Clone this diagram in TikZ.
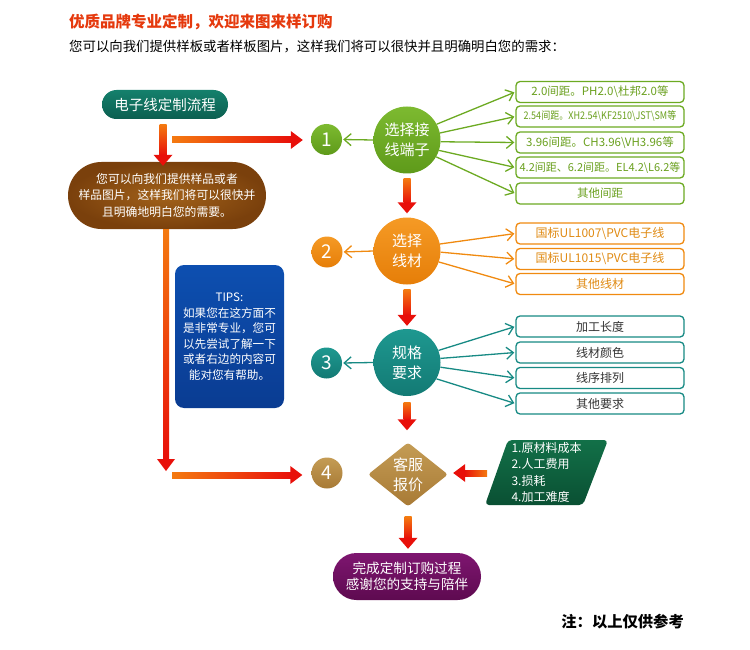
\documentclass[tikz,border=0pt]{standalone}
\usepackage{fontspec}
\setmainfont{Noto Sans CJK SC}
\usetikzlibrary{shapes.geometric,shapes.misc,arrows.meta,calc}
\definecolor{titred}{HTML}{E5390D}
\definecolor{gr}{HTML}{6CAA22}
\definecolor{grlight}{HTML}{7DBA30}
\definecolor{grdark}{HTML}{5E9A1A}
\definecolor{grtext}{HTML}{6AA01E}
\definecolor{org}{HTML}{F08A10}
\definecolor{orglight}{HTML}{F59A25}
\definecolor{orgdark}{HTML}{E67E08}
\definecolor{orgtext}{HTML}{E08A12}
\definecolor{tl}{HTML}{178A84}
\definecolor{tllight}{HTML}{1E9890}
\definecolor{tldark}{HTML}{137A74}
\definecolor{tltext}{HTML}{333333}
\definecolor{goldl}{HTML}{C49C55}
\definecolor{goldd}{HTML}{A87A35}
\definecolor{arrRed}{HTML}{E8100A}
\definecolor{arrOrg}{HTML}{F47A10}
\definecolor{tealA}{HTML}{14806C}
\definecolor{tealB}{HTML}{0C5F50}
\definecolor{brownA}{HTML}{A2621A}
\definecolor{brownB}{HTML}{7A400C}
\definecolor{blueA}{HTML}{0D4FB0}
\definecolor{blueB}{HTML}{0A3C92}
\definecolor{dkgreenA}{HTML}{127048}
\definecolor{dkgreenB}{HTML}{0A5033}
\definecolor{purpA}{HTML}{7E1670}
\definecolor{purpB}{HTML}{5E0A50}
\newcommand\gdown[2]{%
  \path[top color=arrOrg, bottom color=arrRed] let \p1=(#1), \p2=(#2) in (\x1-3.5pt,\y1) rectangle (\x1+3.5pt,\y2+10.5pt);
  \path[fill=arrRed] let \p1=(#1), \p2=(#2) in (\x1-9.5pt,\y2+11pt) -- (\x1+9.5pt,\y2+11pt) -- (\x1,\y2) -- cycle;}
\newcommand\gright[2]{%
  \path[left color=arrOrg, right color=arrRed] let \p1=(#1), \p2=(#2) in (\x1,\y1-3pt) rectangle (\x2-11pt,\y1+3pt);
  \path[fill=arrRed] let \p1=(#1), \p2=(#2) in (\x2-12pt,\y1-9pt) -- (\x2-12pt,\y1+9pt) -- (\x2,\y1) -- cycle;}
\newcommand\gleft[2]{%
  \path[left color=arrRed, right color=arrOrg] let \p1=(#1), \p2=(#2) in (\x2+11pt,\y1-3pt) rectangle (\x1,\y1+3pt);
  \path[fill=arrRed] let \p1=(#1), \p2=(#2) in (\x2+12pt,\y1-9pt) -- (\x2+12pt,\y1+9pt) -- (\x2,\y1) -- cycle;}
\tikzset{
  x=1pt, y=1pt,
  txt/.style={inner sep=0pt, align=center, text=white},
  small/.style={circle, minimum size=31pt, inner sep=0pt, text=white, font=\fontsize{19}{22}\selectfont},
  big/.style={circle, minimum size=67pt, inner sep=0pt, text=white, align=center, font=\fontsize{15}{20}\selectfont},
  optbox/.style={rounded corners=4pt, fill=white, line width=1.3pt, minimum width=168pt, minimum height=21pt, inner sep=0pt},
  gbox/.style={optbox, draw=gr, text=grtext, font=\fontsize{11.5}{13}\selectfont},
  obox/.style={optbox, draw=org, text=orgtext, font=\fontsize{12}{13}\selectfont},
  tbox/.style={optbox, draw=tl, text=tltext, font=\fontsize{12}{13}\selectfont},
  thin/.style={line width=1.3pt, -{Straight Barb[length=7pt,width=12pt]}, shorten >=1pt},
}
\begin{document}
\begin{tikzpicture}
\useasboundingbox (0,0) rectangle (750,-650);
% titles
\node[anchor=west, inner sep=0pt, text=titred, font=\bfseries\fontsize{15.5}{18}\selectfont] (title) at (69,-22) {优质品牌专业定制，欢迎来图来样订购};
\node[anchor=west, inner sep=0pt, font=\fontsize{13.4}{16}\selectfont] (sub) at (69,-47) {您可以向我们提供样板或者样板图片，这样我们将可以很快并且明确明白您的需求：};
% left column
\node[rounded rectangle, minimum width=126pt, minimum height=29pt, inner sep=0pt, top color=tealA, bottom color=tealB, text=white, font=\fontsize{14.5}{17}\selectfont] (start) at (165,-104.5) {电子线定制流程};
\node[rounded rectangle, minimum width=198pt, minimum height=67pt, inner sep=0pt, inner color=brownA, outer color=brownB, txt, font=\fontsize{11.8}{16.7}\selectfont] (brown) at (167,-195.5) {您可以向我们提供样品或者\\样品图片，这样我们将可以很快并\\且明确地明白您的需要。};
\node[rectangle, rounded corners=9pt, minimum width=109pt, minimum height=143pt, inner sep=0pt, top color=blueA, bottom color=blueB, txt, font=\fontsize{11.6}{15.5}\selectfont] (tips) at (229.5,-336.5) {TIPS:\\如果您在这方面不\\是非常专业，您可\\以先尝试了解一下\\或者右边的内容可\\能对您有帮助。};
% small number circles
\node[small, top color=grlight, bottom color=grdark] (n1) at (326.5,-139.5) {1};
\node[small, top color=orglight, bottom color=orgdark] (n2) at (327,-252) {2};
\node[small, top color=tllight, bottom color=tldark] (n3) at (326.5,-363) {3};
\node[small, top color=goldl, bottom color=goldd] (n4) at (327,-473) {4};
% main column
\node[big, top color=grlight, bottom color=grdark] (c1) at (407,-140) {选择接\\线端子};
\node[big, top color=orglight, bottom color=orgdark] (c2) at (407,-251) {选择\\线材};
\node[big, top color=tllight, bottom color=tldark] (c3) at (407,-362.5) {规格\\要求};
\node[diamond, minimum width=80pt, minimum height=56pt, inner sep=0pt, top color=goldl, bottom color=goldd, rounded corners=3pt, txt, font=\fontsize{15}{20}\selectfont] (d4) at (408,-474.5) {客服\\报价};
\node[rounded rectangle, minimum width=148pt, minimum height=47pt, inner sep=0pt, top color=purpA, bottom color=purpB, txt, font=\fontsize{13.6}{16}\selectfont] (fin) at (407,-576.5) {完成定制订购过程\\感谢您的支持与陪伴};
% parallelogram
\path[top color=dkgreenA, bottom color=dkgreenB, rounded corners=4pt] (485,-505) -- (508,-440) -- (608,-440) -- (583,-505) -- cycle;
\node[inner sep=0pt, align=left, text=white, font=\fontsize{12}{16.2}\selectfont] (pg) at (546.5,-472.5) {1.原材料成本\\2.人工费用\\3.损耗\\4.加工难度};
\coordinate (pgL) at (487,-473);
% option boxes
\node[gbox] (b11) at (600,-92) {2.0间距。PH2.0\textbackslash 杜邦2.0等};
\node[gbox] (b12) at (600,-116.5) {\fontsize{10.5}{12}\selectfont\scalebox{0.86}[1]{2.54间距。XH2.54\textbackslash KF2510\textbackslash JST\textbackslash SM等}};
\node[gbox] (b13) at (600,-142.5) {3.96间距。CH3.96\textbackslash VH3.96等};
\node[gbox] (b14) at (600,-167.5) {\fontsize{11}{12}\selectfont 4.2间距、6.2间距。EL4.2\textbackslash L6.2等};
\node[gbox] (b15) at (600,-193.5) {其他间距};
\node[obox] (b21) at (600,-233.5) {国标UL1007\textbackslash PVC电子线};
\node[obox] (b22) at (600,-259) {国标UL1015\textbackslash PVC电子线};
\node[obox] (b23) at (600,-284) {其他线材};
\node[tbox] (b31) at (600,-326.5) {加工长度};
\node[tbox] (b32) at (600,-352.5) {线材颜色};
\node[tbox] (b33) at (600,-378) {线序排列};
\node[tbox] (b34) at (600,-403.5) {其他要求};
% note
\node[anchor=east, inner sep=0pt, font=\bfseries\fontsize{15.3}{18}\selectfont] (note) at (684,-622) {注：以上仅供参考};
% thin connectors
\draw[thin, gr] (c1.west) -- (n1.east);
\draw[thin, gr] (c1.28) -- (b11.west);
\draw[thin, gr] (c1.12) -- (b12.west);
\draw[thin, gr] (c1.-3) -- (b13.west);
\draw[thin, gr] (c1.-18) -- (b14.west);
\draw[thin, gr] (c1.-30) -- (b15.west);
\draw[thin, org] (c2.west) -- (n2.east);
\draw[thin, org] (c2.12) -- (b21.west);
\draw[thin, org] (c2.-2) -- (b22.west);
\draw[thin, org] (c2.-19) -- (b23.west);
\draw[thin, tl] (c3.west) -- (n3.east);
\draw[thin, tl] (c3.21) -- (b31.west);
\draw[thin, tl] (c3.7) -- (b32.west);
\draw[thin, tl] (c3.-8) -- (b33.west);
\draw[thin, tl] (c3.-29) -- (b34.west);
% thick gradient arrows
\coordinate (s0) at ($(start.south)+(-2,-5)$);
\coordinate (t0) at ($(brown.north)+(-4,-4)$);
\gdown{s0}{t0}
\coordinate (h1) at (172,-140);
\coordinate (h1t) at ($(n1.west)+(-8,0)$);
\gright{h1}{h1t}
\gdown{$(c1.south)+(0,-5)$}{$(c2.north)+(0,4)$}
\gdown{$(c2.south)+(0,-5)$}{$(c3.north)+(0,3)$}
\gdown{$(c3.south)+(0,-6)$}{$(d4.north)+(0,12)$}
\gdown{$(d4.south)+(0,-10)$}{$(fin.north)+(0,4)$}
% long orange line
\path[top color=arrOrg, middle color=arrOrg, bottom color=arrRed] let \p1=(brown.south) in (\x1-4pt,\y1) rectangle (\x1+2pt,-459);
\path[fill=arrRed] let \p1=(brown.south) in (\x1-10pt,-459) -- (\x1+8pt,-459) -- (\x1-1pt,-471) -- cycle;
\coordinate (h4) at (172,-475);
\coordinate (h4t) at ($(n4.west)+(-9,2)$);
\gright{h4}{h4t}
\coordinate (d4e) at ($(d4.east)+(5,0)$);
\gleft{pgL}{d4e}
\end{tikzpicture}
\end{document}
